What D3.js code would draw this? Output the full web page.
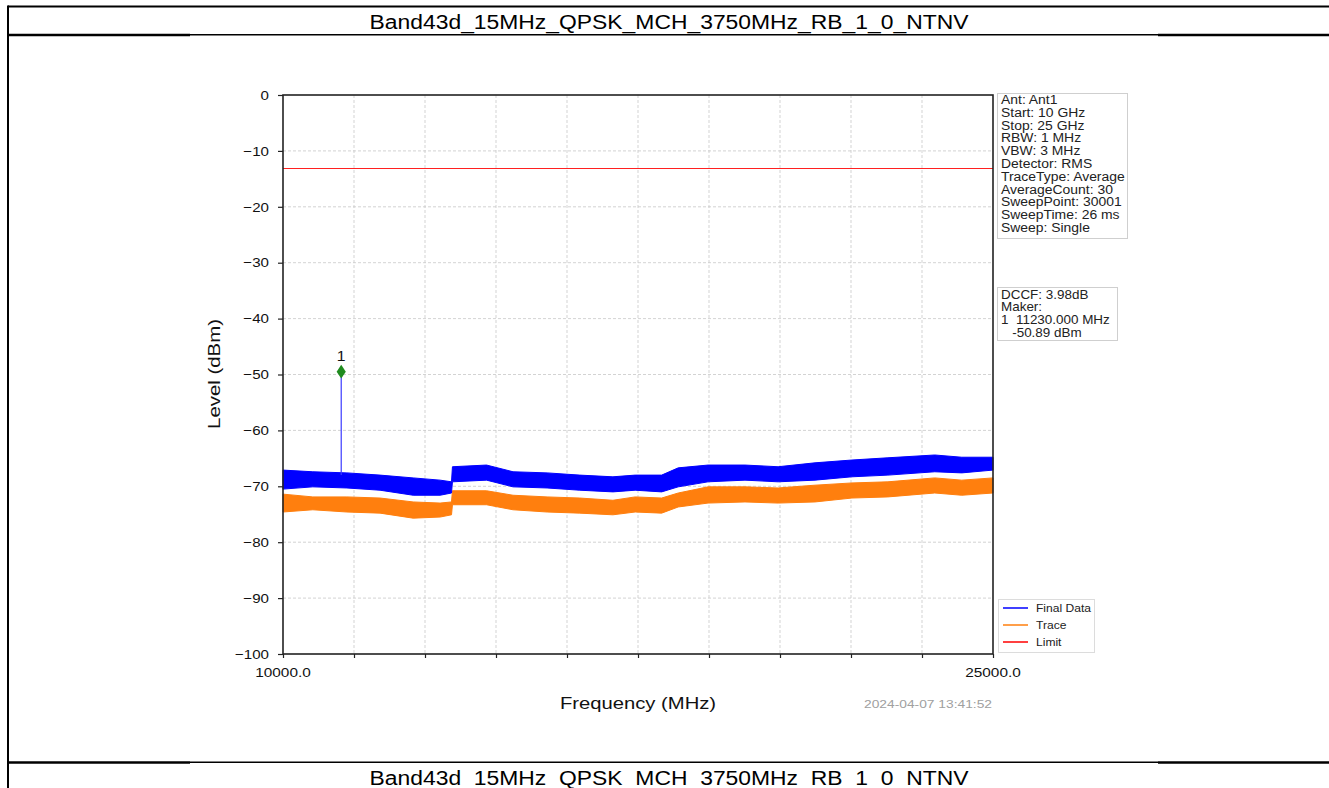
<!DOCTYPE html>
<html><head><meta charset="utf-8">
<script src="https://cdn.jsdelivr.net/npm/d3@7"></script>
<style>
html,body{margin:0;padding:0;background:#fff;overflow:hidden}
text{font-family:"Liberation Sans",Arial,sans-serif}
</style></head>
<body>
<svg id="c" width="1329" height="788"></svg>
<script>
const titleText = "Band43d_15MHz_QPSK_MCH_3750MHz_RB_1_0_NTNV";
const xDomain = [10000, 25000];
const yDomain = [-100, 0];
const yTicks = [0,-10,-20,-30,-40,-50,-60,-70,-80,-90,-100];
const yTickLabels = ["0","\u221210","\u221220","\u221230","\u221240","\u221250","\u221260","\u221270","\u221280","\u221290","\u2212100"];
const xGrid = [10000,11500,13000,14500,16000,17500,19000,20500,22000,23500,25000];
const xLabelled = [10000, 25000];
const xTickLabels = ["10000.0","25000.0"];
const limitLevel = -13;
const markerFreq = 11230, markerLevel = -49.5, markerBase = -68.0;

const freqs      = [10000,10630,11350,12050,12750,13320,13560,13580,14300,14860,15580,16270,16970,17440,18000,18350,18980,19760,20460,21240,22020,22780,23770,24340,25000];
const blueUpper  = [-67.1,-67.4,-67.6,-68.0,-68.5,-68.9,-69.2,-66.5,-66.2,-67.4,-67.6,-68.0,-68.3,-68.0,-68.0,-66.7,-66.2,-66.2,-66.5,-65.8,-65.3,-64.9,-64.4,-64.8,-64.8];
const blueLower  = [-70.5,-70.1,-70.3,-70.7,-71.6,-71.6,-71.2,-69.2,-68.9,-70.1,-70.3,-70.7,-71.0,-70.7,-71.0,-70.1,-69.2,-68.9,-69.2,-68.9,-68.3,-68.0,-67.4,-67.6,-67.1];
const orangeUpper= [-71.4,-71.9,-71.9,-72.1,-72.8,-73.0,-72.8,-70.8,-70.8,-71.6,-71.9,-72.1,-72.5,-71.9,-72.1,-71.2,-70.1,-70.1,-70.3,-69.8,-69.4,-69.2,-68.5,-68.9,-68.5];
const orangeLower= [-74.6,-74.2,-74.6,-74.8,-75.7,-75.5,-75.1,-73.3,-73.3,-74.2,-74.6,-74.8,-75.1,-74.6,-74.8,-73.7,-73.0,-72.8,-73.0,-72.8,-72.1,-71.9,-71.2,-71.6,-71.2];

const infoLines = ["Ant: Ant1","Start: 10 GHz","Stop: 25 GHz","RBW: 1 MHz","VBW: 3 MHz","Detector: RMS","TraceType: Average","AverageCount: 30","SweepPoint: 30001","SweepTime: 26 ms","Sweep: Single"];
const markerLines = ["DCCF: 3.98dB","Maker:","1  11230.000 MHz","   -50.89 dBm"];
const legendNames = ["Final Data","Trace","Limit"];
const legendColors = ["#0000ff","#ff7f0e","#ff0000"];
const timestamp = "2024-04-07 13:41:52";

const svg = d3.select("#c");
const x = d3.scaleLinear().domain(xDomain).range([283, 993]);
const y = d3.scaleLinear().domain(yDomain).range([654, 95]);

function stext(parent, px, py, str, size, sx, anchor, rot, fill) {
  return parent.append("text")
    .attr("transform", `translate(${px},${py})` + (rot ? ` rotate(${rot})` : "") + ` scale(${sx},1)`)
    .attr("text-anchor", anchor || "start").attr("font-size", size)
    .attr("fill", fill || "#111").style("white-space","pre").text(str);
}

// page frame
svg.append("line").attr("x1",8).attr("x2",1329).attr("y1",6.5).attr("y2",6.5).attr("stroke","#000").attr("stroke-width",2);
svg.append("line").attr("x1",8).attr("x2",8).attr("y1",5.5).attr("y2",788).attr("stroke","#000").attr("stroke-width",2);
[35, 762.5].forEach(yy=>{
  svg.append("line").attr("x1",8).attr("x2",190).attr("y1",yy).attr("y2",yy).attr("stroke","#000").attr("stroke-width",2.5);
  svg.append("line").attr("x1",190).attr("x2",1158).attr("y1",yy-0.3).attr("y2",yy-0.3).attr("stroke","#000").attr("stroke-width",1.4);
  svg.append("line").attr("x1",1158).attr("x2",1329).attr("y1",yy).attr("y2",yy).attr("stroke","#000").attr("stroke-width",2.5);
});
stext(svg, 669, 28.5, titleText, 21, 1.09, "middle", 0, "#000");
stext(svg, 669, 785, titleText, 21, 1.09, "middle", 0, "#000");

// grid
const g = svg.append("g");
g.selectAll(".hg").data(yTicks.slice(1,-1)).join("line")
  .attr("x1",283).attr("x2",993).attr("y1",d=>y(d)).attr("y2",d=>y(d))
  .attr("stroke","#c8c8c8").attr("stroke-width",0.8).attr("stroke-dasharray","3,2");
g.selectAll(".vg").data(xGrid.slice(1,-1)).join("line")
  .attr("y1",95).attr("y2",654).attr("x1",d=>x(d)).attr("x2",d=>x(d))
  .attr("stroke","#c8c8c8").attr("stroke-width",0.8).attr("stroke-dasharray","3,2");

// limit
svg.append("line").attr("x1",283).attr("x2",993).attr("y1",Math.round(y(limitLevel))+0.5).attr("y2",Math.round(y(limitLevel))+0.5).attr("stroke","#ff2020").attr("stroke-width",1.2);

// traces
const idx = d3.range(freqs.length);
const areaOf = (up, lo) => d3.area().x(i=>x(freqs[i])).y0(i=>y(lo[i])).y1(i=>y(up[i]));
svg.append("path").attr("d",areaOf(orangeUpper,orangeLower)(idx)).attr("fill","#ff7f0e").attr("stroke","#ff7f0e").attr("stroke-width",1);
svg.append("path").attr("d",areaOf(blueUpper,blueLower)(idx)).attr("fill","#0000ff").attr("stroke","#0000ff").attr("stroke-width",1);

// marker
svg.append("line").attr("x1",x(markerFreq)).attr("x2",x(markerFreq)).attr("y1",y(markerBase)).attr("y2",y(markerLevel)).attr("stroke","#3a3aff").attr("stroke-width",1.2);
svg.append("path").attr("d",d3.symbol().type(d3.symbolDiamond).size(60)()).attr("transform",`translate(${x(markerFreq)},${y(markerLevel)}) scale(1.1,0.95)`).attr("fill","#1f8b1f");
stext(svg, x(markerFreq), y(markerLevel)-10.5, "1", 15, 1.05, "middle", 0, "#111");

// axes frame
svg.append("rect").attr("x",283).attr("y",95).attr("width",710).attr("height",559).attr("fill","none").attr("stroke","#222").attr("stroke-width",1.6);

const ya = svg.append("g").attr("transform","translate(283,0)").call(d3.axisLeft(y).tickValues(yTicks).tickSize(5).tickFormat(""));
ya.select(".domain").remove();
ya.selectAll("line").attr("stroke","#222").attr("stroke-width",1.2);
yTicks.forEach((d,i)=> stext(svg, 269, y(d)+4.7, yTickLabels[i], 13.5, 1.12, "end", 0, "#111"));

const xa = svg.append("g").attr("transform","translate(0,654)").call(d3.axisBottom(x).tickValues(xGrid).tickSize(4).tickFormat(""));
xa.select(".domain").remove();
xa.selectAll("line").attr("stroke","#222").attr("stroke-width",1.2);
xLabelled.forEach((d,i)=> stext(svg, x(d), 677, xTickLabels[i], 13.5, 1.14, "middle", 0, "#111"));

stext(svg, 220, 374, "Level (dBm)", 17, 1.2, "middle", -90, "#111");
stext(svg, 638, 709, "Frequency (MHz)", 17, 1.19, "middle", 0, "#111");
stext(svg, 992, 708, timestamp, 11.5, 1.2, "end", 0, "#a0a0a0");

// info box
svg.append("rect").attr("x",997.5).attr("y",93.5).attr("width",130).attr("height",145).attr("fill","#fff").attr("stroke","#cfcfcf");
infoLines.forEach((d,i)=> stext(svg, 1001, 104+i*12.8, d, 12, 1.16, "start", 0, "#222"));

svg.append("rect").attr("x",997.5).attr("y",287.5).attr("width",120).attr("height",53).attr("fill","#fff").attr("stroke","#cfcfcf");
markerLines.forEach((d,i)=> stext(svg, 1001, 298.5+i*12.9, d, 12, 1.12, "start", 0, "#222"));

// legend
svg.append("rect").attr("x",998.5).attr("y",599.5).attr("width",96).attr("height",53).attr("fill","#fff").attr("stroke","#dcdcdc");
legendNames.forEach((n,i)=>{
  const yy = 608 + i*17;
  svg.append("line").attr("x1",1003).attr("x2",1028).attr("y1",yy).attr("y2",yy).attr("stroke",legendColors[i]).attr("stroke-width",1.5);
  stext(svg, 1036, yy+4, n, 10.5, 1.15, "start", 0, "#222");
});
</script>
</body></html>
